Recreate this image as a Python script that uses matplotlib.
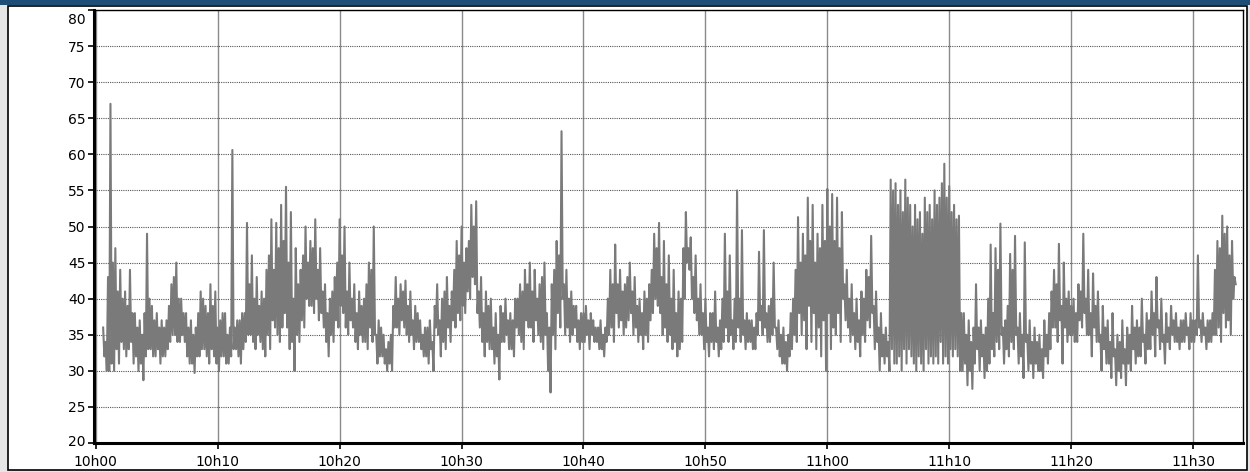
import numpy as np
import matplotlib
matplotlib.use('Agg')
import matplotlib.pyplot as plt
from matplotlib.patches import Rectangle
from matplotlib.transforms import ScaledTranslation

# The signal swings up and down on every sample, so each pair is (peak, trough).
seg_a = [36, 32, 34, 30, 43, 30, 67, 31, 45, 30, 47, 33, 41, 31, 44, 34, 40, 33, 41, 32,
         39, 33, 44, 34, 38, 31, 38, 32, 36, 30, 37, 31, 35, 28.7, 38, 32, 49, 33, 40, 33,
         39, 32, 37, 32, 38, 33, 36, 31, 37, 32]
seg_b = [36, 32, 37, 33, 39, 34, 42, 35, 43, 35, 45, 34, 40, 34, 40, 35, 38, 34, 38, 32,
         36, 31, 37, 31, 35, 29.7, 36, 32, 38, 32, 41, 33, 40, 33, 39, 32, 38, 31, 42, 33,
         39, 32, 41, 31, 36, 30, 37, 32, 38, 32]
seg_c = [38, 31, 35, 31, 36, 32, 60.6, 33, 36, 33, 37, 32, 37, 31, 38, 33, 38, 34, 50.5, 35,
         42, 35, 46, 34, 40, 33, 43, 35, 39, 34, 41, 33, 40, 32, 44, 35, 46, 33, 51, 37,
         44, 36, 50.5, 35, 47, 34, 53, 36, 48, 38]
seg_d = [55.5, 36, 45, 33, 52, 34, 40, 30, 47, 35, 42, 34, 44, 37, 46, 36, 50, 40, 45, 39,
         48, 39, 47, 38, 51, 40, 44, 37, 47, 38, 41, 36, 42, 34, 38, 32, 40, 35, 41, 34,
         43, 37, 45, 36, 51, 39, 46, 38, 50, 36]
seg_e = [41, 35, 45, 37, 40, 36, 42, 34, 38, 33, 41, 35, 39, 34, 40, 34, 42, 33, 45, 36,
         44, 34, 50, 35, 35, 31, 37, 32, 36, 32, 35, 31, 33, 30, 34, 31, 35, 30, 39, 36,
         43, 36, 40, 35, 42, 37, 41, 36, 42.5, 35]
seg_f = [39, 34, 41, 35, 37, 33, 39, 34, 38, 34, 37, 33, 35, 32, 36, 32, 36, 31, 37, 33,
         34, 30, 39, 36, 42, 35, 37, 32, 40, 34, 41, 33, 43, 36, 39, 34, 41, 37, 44, 36,
         48, 38, 46, 37, 50, 39, 45, 38, 47, 41]
seg_g = [48, 40, 53, 43, 50, 42, 53.5, 38, 41, 36, 43, 34, 38, 32, 41, 34, 39, 33, 40, 33,
         36, 31, 38, 32, 35, 28.8, 39, 34, 38, 34, 40, 35, 37, 33, 38, 33, 37, 32, 40, 36,
         40, 35, 42, 34, 41, 33, 44, 37, 42, 36]
seg_h = [45, 36, 41, 34, 44, 37, 40, 35, 42, 34, 43, 33, 45, 35, 38, 30, 36, 27, 42, 35,
         44, 33, 48, 38, 46, 36, 63.2, 40, 42, 35, 44, 36, 40, 34, 41, 35, 39, 36, 39, 34,
         37, 33, 38, 34, 38, 34, 39, 35, 37, 33]
seg_i = [38, 35, 37, 34, 36, 34, 36, 33, 37, 33, 35, 32, 36, 34, 40, 35, 44, 36, 42, 34,
         47.5, 38, 42, 36, 44, 37, 41, 35, 42, 36, 43, 37, 45, 38, 41, 35, 43, 36, 39, 34,
         40, 35, 38, 33, 41, 35, 40, 34, 42, 37]
seg_j = [44, 38, 49, 40, 47, 39, 50.5, 38, 43, 35, 48, 36, 42, 34, 46, 35, 40, 33, 44, 34,
         38, 32, 41, 33, 40, 34, 47, 40, 52, 45, 47, 44, 48.5, 40, 43, 38, 46, 37, 40, 35,
         42, 35, 38, 33, 40, 34, 36, 32, 38, 34]
seg_k = [38, 33, 41, 34, 36, 32, 37, 33, 40, 34, 49, 36, 41, 34, 46, 35, 37, 33, 40, 34,
         55, 36, 40, 34, 49.5, 35, 37, 33, 38, 34, 37, 34, 37, 33, 36, 33, 38, 35, 46.5, 37,
         39, 35, 49.5, 36, 38, 34, 39, 34, 40, 35]
seg_l = [45, 36, 36, 33, 37, 32, 35, 31, 36, 31, 34, 30, 35, 32, 38, 33, 40, 35, 44, 34,
         51.3, 38, 45, 35, 49, 37, 46, 33, 54, 39, 48, 34, 53, 38, 45, 33, 49, 36, 47, 32,
         53, 37, 48, 30, 55.2, 38, 50, 33, 54.5, 36]
seg_m = [48, 35, 54, 38, 47, 34, 52, 40, 42, 37, 44, 36, 40, 34, 42, 35, 38, 33, 40, 34,
         37, 32, 41, 35, 40, 34, 44, 37, 43, 36, 48.7, 38, 39, 33, 41, 34, 36, 30, 38, 32,
         35, 31, 36, 32, 34, 30, 56.5, 33, 55, 31]
seg_n = [56, 31, 53, 32, 55, 30, 52, 33, 56.5, 31, 54, 33, 53, 32, 50, 31, 53, 30, 51, 32,
         52, 31, 49, 30, 54, 33, 52, 31, 53, 32, 51, 31, 55, 32, 53, 31, 54, 34, 56, 31,
         58.7, 32, 54, 31, 55.6, 33, 52, 32, 53, 33]
seg_o = [51, 32, 51.5, 30, 38, 30, 38, 31, 35, 28, 37, 30, 34, 27.5, 36, 31, 42, 33, 36, 30,
         37, 32, 35, 29, 36, 30, 40, 31, 47.5, 33, 38, 32, 47, 34, 44, 33, 50.4, 35, 36, 31,
         37, 33, 39, 32, 46.2, 34, 44, 33, 48.7, 35]
seg_p = [36, 31, 38, 32, 35, 29, 47.8, 34, 35, 30, 37, 31, 34, 29, 36, 31, 34, 30, 35, 30,
         33, 29, 37, 32, 35, 31, 38, 33, 41, 36, 44, 36, 42, 34, 47.6, 37, 39, 31, 45, 36,
         40, 34, 41, 35, 39, 35, 40, 34, 38, 34]
seg_q = [42, 37, 41, 36, 49, 38, 40, 35, 44, 35, 38, 32, 43.5, 36, 39, 34, 41, 34, 35, 30,
         39, 33, 36, 31, 37, 31, 34, 29, 38, 32, 33, 28, 35, 30, 34, 29, 37, 31, 33, 28,
         36, 31, 35, 30, 39, 33, 36, 31, 37, 32]
seg_r = [36, 32, 40, 34, 35, 31, 38, 33, 37, 33, 41, 35, 38, 32, 43, 36, 37, 33, 40, 34,
         35, 31, 38, 34, 36, 33, 39, 35, 37, 34, 38, 34, 36, 33, 37, 34, 37, 34, 38, 35,
         36, 33, 38, 34, 37, 34, 37, 35, 46, 36]
seg_s = [37, 34, 38, 35, 36, 33, 37, 34, 37, 34, 38, 35, 44, 35, 48, 36, 47, 34, 51.5, 38,
         49, 36, 50, 37, 46, 35, 48, 40, 43, 42]

values = (seg_a + seg_b + seg_c + seg_d + seg_e + seg_f + seg_g + seg_h + seg_i + seg_j
          + seg_k + seg_l + seg_m + seg_n + seg_o + seg_p + seg_q + seg_r + seg_s)
start_min = 0.6
step_min = 0.1
minutes = start_min + step_min * np.arange(len(values))

tick_minutes = [0, 10, 20, 30, 40, 50, 60, 70, 80, 90]
tick_labels = ['10h00', '10h10', '10h20', '10h30', '10h40', '10h50', '11h00', '11h10', '11h20', '11h30']
y_ticks = list(range(20, 81, 5))

plt.rcParams['font.family'] = ['DejaVu Sans']
plt.rcParams['path.simplify'] = False  # keep every sample, the trace is very dense

W, H = 1250, 472
fig = plt.figure(figsize=(W / 100, H / 100), dpi=100, facecolor='#e6e6e6')

# frame decorations: top band and white panel (behind the axes)
fig.patches.append(Rectangle((0, 1 - 5 / H), 1, 5 / H, transform=fig.transFigure,
                             facecolor='#1d4e78', edgecolor='none', zorder=-10))
fig.patches.append(Rectangle((8 / W, 2 / H), 1239 / W, 464 / H, transform=fig.transFigure,
                             facecolor='white', edgecolor='black', linewidth=1.2, zorder=-10))

ax = fig.add_axes([94 / W, 1 - 443 / H, (1243 - 94) / W, (443 - 10) / H])
ax.set_facecolor('white')

ax.plot(minutes, values, color='#7a7a7a', linewidth=1.5, zorder=3)

ax.set_xlim(-0.15, 94.1)
ax.set_ylim(20, 80)
ax.set_xticks(tick_minutes)
ax.set_xticklabels(tick_labels)
ax.set_yticks(y_ticks)

ax.grid(axis='x', color='#8a8a8a', linewidth=1.0, linestyle='-', zorder=1)
ax.grid(axis='y', color='#555555', linewidth=0.8, linestyle=(0, (1, 1)), zorder=1)
ax.set_axisbelow(True)

ax.tick_params(axis='both', direction='out', length=4, width=1.2, labelsize=10, colors='black')
ax.tick_params(axis='y', pad=2)
ax.tick_params(axis='x', pad=5)

# the end labels sit a little inside the axis, as in the source chart
ylabels = ax.get_yticklabels()
ylabels[-1].set_transform(ylabels[-1].get_transform() + ScaledTranslation(0, -0.08, fig.dpi_scale_trans))
ylabels[0].set_transform(ylabels[0].get_transform() + ScaledTranslation(0, 0.03, fig.dpi_scale_trans))

for side in ['left', 'bottom']:
    ax.spines[side].set_linewidth(2.2)
for side in ['top', 'right']:
    ax.spines[side].set_linewidth(1.0)

fig.savefig('out.png', dpi=100, facecolor=fig.get_facecolor())
